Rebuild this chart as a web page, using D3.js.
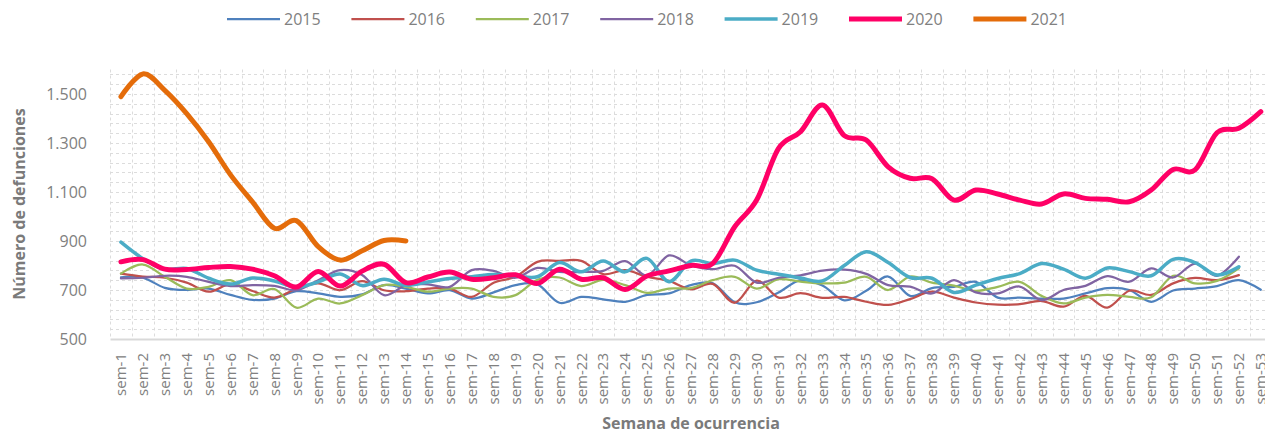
<!DOCTYPE html>
<html>
<head>
<meta charset="utf-8">
<script src="https://cdn.jsdelivr.net/npm/d3@7"></script>
<style>
  html, body { margin: 0; padding: 0; background: #fff; overflow: hidden; }
  svg { display: block; font-family: "Open Sans", "Noto Sans", sans-serif; }
</style>
</head>
<body>
<svg id="chart" width="1265" height="433"></svg>
<script>
// Weekly deaths by year of occurrence

const weeks = [
  "sem-1", "sem-2", "sem-3", "sem-4", "sem-5", "sem-6", "sem-7", "sem-8", "sem-9", "sem-10",
  "sem-11", "sem-12", "sem-13", "sem-14", "sem-15", "sem-16", "sem-17", "sem-18", "sem-19", "sem-20",
  "sem-21", "sem-22", "sem-23", "sem-24", "sem-25", "sem-26", "sem-27", "sem-28", "sem-29", "sem-30",
  "sem-31", "sem-32", "sem-33", "sem-34", "sem-35", "sem-36", "sem-37", "sem-38", "sem-39", "sem-40",
  "sem-41", "sem-42", "sem-43", "sem-44", "sem-45", "sem-46", "sem-47", "sem-48", "sem-49", "sem-50",
  "sem-51", "sem-52", "sem-53"
];

const years = ["2015", "2016", "2017", "2018", "2019", "2020", "2021"];

const deaths2015 = [752, 750, 709, 700, 706, 680, 660, 665, 695, 686, 672, 682, 720, 706, 686, 699, 665, 690, 720, 723,
  648, 672, 662, 652, 680, 686, 720, 727, 650, 650, 690, 740, 718, 658, 697, 755, 676, 708, 713, 733,
  669, 669, 665, 665, 686, 708, 700, 652, 698, 706, 716, 740, 701];
const deaths2016 = [767, 755, 750, 730, 693, 724, 696, 669, 705, 727, 699, 736, 699, 695, 706, 706, 672, 730, 754, 815,
  819, 819, 765, 781, 754, 737, 703, 725, 648, 738, 669, 687, 668, 672, 652, 639, 663, 693, 669, 649,
  640, 642, 655, 632, 676, 628, 697, 680, 727, 749, 740, 761];
const deaths2017 = [767, 804, 754, 706, 713, 740, 679, 704, 628, 665, 645, 679, 720, 713, 693, 706, 706, 672, 679, 742,
  751, 716, 741, 720, 688, 706, 708, 740, 754, 706, 744, 734, 727, 730, 754, 700, 755, 730, 718, 696,
  713, 733, 676, 645, 669, 680, 672, 670, 758, 727, 737, 788];
const deaths2018 = [747, 750, 758, 754, 733, 716, 720, 717, 699, 740, 781, 761, 679, 720, 723, 713, 781, 778, 750, 790,
  774, 774, 778, 818, 760, 841, 800, 785, 799, 730, 750, 760, 779, 783, 766, 720, 714, 686, 740, 690,
  686, 714, 659, 700, 717, 757, 734, 788, 751, 808, 758, 836];
const deaths2019 = [895, 828, 785, 788, 748, 724, 749, 737, 712, 733, 765, 718, 744, 719, 733, 747, 754, 763, 758, 754,
  812, 774, 818, 774, 829, 734, 818, 808, 822, 781, 764, 749, 737, 800, 856, 812, 751, 748, 690, 720,
  747, 767, 808, 785, 748, 790, 775, 758, 825, 812, 761, 795];
const deaths2020 = [815, 824, 785, 784, 792, 796, 785, 758, 712, 776, 716, 777, 805, 730, 753, 773, 744, 750, 762, 727,
  785, 744, 750, 702, 757, 778, 800, 809, 958, 1067, 1278, 1346, 1455, 1330, 1312, 1203, 1156, 1154, 1067, 1108,
  1092, 1067, 1051, 1092, 1074, 1070, 1060, 1108, 1192, 1190, 1342, 1360, 1428];
const deaths2021 = [1489, 1582, 1515, 1420, 1305, 1170, 1060, 952, 983, 877, 822, 860, 902, 900];

const yTicks = [500, 700, 900, 1100, 1300, 1500];

const colors = ["#4f81bd", "#c0504d", "#9bbb59", "#8064a2", "#4bacc6", "#ff0066", "#e46c0a"];
const widths = [2.25, 2.25, 2.25, 2.25, 3.5, 5, 5];

const seriesValues = [deaths2015, deaths2016, deaths2017, deaths2018, deaths2019, deaths2020, deaths2021];

const svg = d3.select("#chart");
const plotLeft = 110;
const bandStep = 21.92;
const plotRight = plotLeft + bandStep * weeks.length;
const plotTop = 69.5;
const plotBottom = 339;

const xScale = d3.scaleBand().domain(weeks).range([plotLeft, plotRight]).padding(0);
const yScale = d3.scaleLinear().domain([500, 1600]).range([plotBottom, plotTop]);

const locale = d3.formatLocale({ decimal: ",", thousands: ".", grouping: [3], currency: ["", ""] });
const fmt = locale.format(",d");

/* Gridlines */
const grid = svg.append("g").attr("class", "grid");
grid
  .selectAll("line.h")
  .data(d3.range(540, 1600, 40))
  .join("line")
  .attr("class", "h")
  .attr("x1", plotLeft)
  .attr("x2", plotRight)
  .attr("y1", d => Math.round(yScale(d)) + 0.5)
  .attr("y2", d => Math.round(yScale(d)) + 0.5)
  .attr("stroke", "#dcdcdc")
  .attr("stroke-dasharray", "3,3");
grid
  .selectAll("line.v")
  .data(weeks)
  .join("line")
  .attr("class", "v")
  .attr("x1", d => Math.round(xScale(d)) + 0.5)
  .attr("x2", d => Math.round(xScale(d)) + 0.5)
  .attr("y1", plotTop)
  .attr("y2", plotBottom)
  .attr("stroke", "#dcdcdc")
  .attr("stroke-dasharray", "3,3");

/* Axes */
const xAxis = d3.axisBottom(xScale).tickSize(0).tickPadding(0);
const gx = svg
  .append("g")
  .attr("id", "xAxis")
  .attr("transform", "translate(0," + plotBottom + ")")
  .call(xAxis);
gx.select(".domain").attr("stroke", "#d9d9d9").attr("stroke-width", 2);
gx.selectAll("text")
  .attr("transform", "rotate(-90)")
  .attr("text-anchor", "end")
  .attr("x", -14)
  .attr("y", 0)
  .attr("dy", "0.35em")
  .attr("fill", "#808080")
  .style("font-size", "15px")
  .style("font-family", "'Open Sans', sans-serif");

const yAxis = d3.axisLeft(yScale).tickValues(yTicks).tickFormat(fmt).tickSize(0).tickPadding(0);
const gy = svg
  .append("g")
  .attr("id", "yAxis")
  .attr("transform", "translate(87,0)")
  .call(yAxis);
gy.select(".domain").remove();
gy.selectAll("text")
  .attr("fill", "#808080")
  .style("font-size", "16px")
  .style("font-family", "'Open Sans', sans-serif");

/* Axis titles */
svg
  .append("text")
  .attr("text-anchor", "middle")
  .attr("transform", "translate(25," + 204 + ") rotate(-90)")
  .attr("fill", "#7a7a7a")
  .style("font-size", "16px")
  .style("font-weight", "bold")
  .text("Número de defunciones");
svg
  .append("text")
  .attr("text-anchor", "middle")
  .attr("x", 691)
  .attr("y", 429)
  .attr("fill", "#7a7a7a")
  .style("font-size", "16px")
  .style("font-weight", "bold")
  .text("Semana de ocurrencia");

/* Lines */
const line = d3
  .line()
  .x((d, i) => xScale(weeks[i]) + xScale.bandwidth() / 2)
  .y(d => yScale(d))
  .curve(d3.curveCardinal);

svg
  .append("g")
  .attr("class", "lines")
  .selectAll("path")
  .data(seriesValues)
  .join("path")
  .attr("d", d => line(d))
  .attr("fill", "none")
  .attr("stroke", (d, i) => colors[i])
  .attr("stroke-width", (d, i) => widths[i])
  .attr("stroke-linecap", "round")
  .attr("stroke-linejoin", "round");

/* Legend */
const legend = svg.append("g").attr("class", "legend");
const items = legend
  .selectAll("g")
  .data(years)
  .join("g")
  .attr("transform", (d, i) => "translate(" + (227 + i * 124.4) + ",19)");
items
  .append("line")
  .attr("x1", 0)
  .attr("x2", 53)
  .attr("stroke", (d, i) => colors[i])
  .attr("stroke-width", (d, i) => widths[i]);
items
  .append("text")
  .attr("x", 57)
  .attr("dy", "0.35em")
  .attr("fill", "#808080")
  .style("font-size", "16px")
  .text(d => d);
</script>
</body>
</html>
